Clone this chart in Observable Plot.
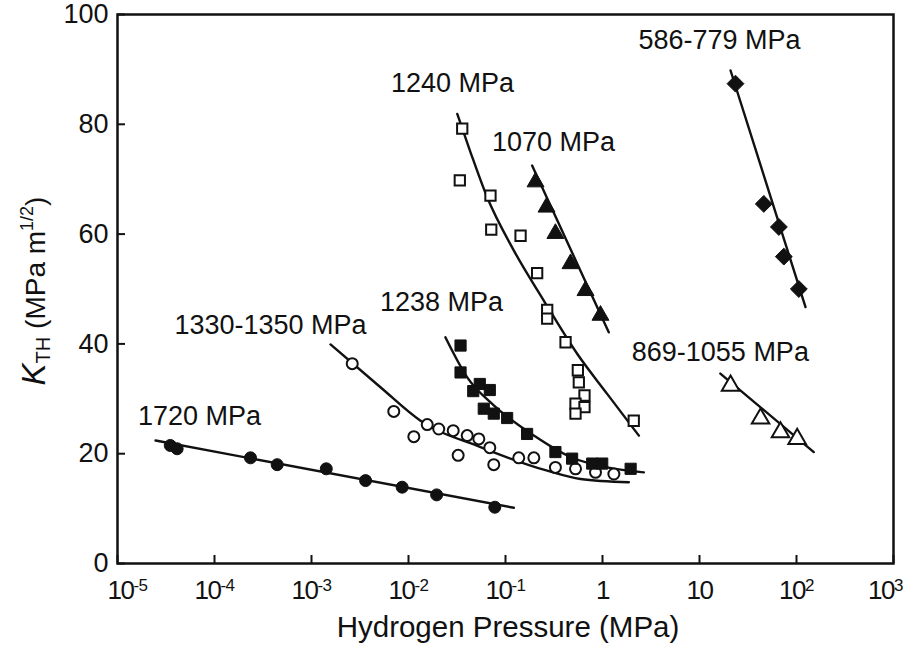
<!DOCTYPE html>
<html><head><meta charset="utf-8">
<script src="https://cdn.jsdelivr.net/npm/d3@7"></script>
<script src="https://cdn.jsdelivr.net/npm/@observablehq/plot@0.6"></script>
<style>
body{margin:0;background:#fff}
#chart svg{font-family:"Liberation Sans",Arial,Helvetica,sans-serif}
</style>
</head><body><div id="chart"></div>
<script>
// ---- axis ticks ----
const xTicks = [1e-5, 1e-4, 1e-3, 1e-2, 1e-1, 1, 10, 100, 1000];
const xTickBase = ["10", "10", "10", "10", "10", "1", "10", "10", "10"];
const xTickExp = ["-5", "-4", "-3", "-2", "-1", "", "", "2", "3"];
const yTicks = [0, 20, 40, 60, 80, 100];

// ---- data: 1720 MPa (filled circles) ----
const p1720x = [3.5e-5, 4.12e-5, 2.35e-4, 4.43e-4, 1.42e-3, 3.61e-3, 8.6e-3, 1.95e-2, 7.76e-2];
const p1720y = [21.5, 20.9, 19.25, 18.0, 17.25, 15.1, 13.9, 12.5, 10.25];
const f1720x = [2.47e-5, 0.122];
const f1720y = [22.4, 10.15];

// ---- 1330-1350 MPa (open circles) ----
const p1330x = [2.63e-3, 7.05e-3, 1.135e-2, 1.56e-2, 2.05e-2, 2.89e-2, 4.03e-2, 5.31e-2, 6.89e-2, 3.25e-2, 7.57e-2, 0.137, 0.196, 0.327, 0.527, 0.847, 1.31];
const p1330y = [36.4, 27.7, 23.1, 25.3, 24.5, 24.2, 23.3, 22.7, 21.1, 19.7, 18.0, 19.25, 19.25, 17.5, 17.25, 16.6, 16.3];
const f1330x = [1.57e-3, 5.14e-3, 1.33e-2, 5.52e-2, 0.269, 0.593, 1.87];
const f1330y = [39.9, 32.1, 26.0, 21.2, 16.9, 15.4, 14.8];

// ---- 1238 MPa (filled squares) ----
const p1238x = [3.44e-2, 3.44e-2, 5.43e-2, 4.65e-2, 6.89e-2, 5.97e-2, 7.57e-2, 0.104, 0.167, 0.327, 0.486, 0.783, 0.993, 1.95];
const p1238y = [39.7, 34.8, 32.7, 31.4, 31.6, 28.2, 27.3, 26.5, 23.6, 20.3, 19.1, 18.2, 18.2, 17.25];
const f1238x = [2.40e-2, 4.03e-2, 7.57e-2, 0.196, 0.468, 1.117, 2.67];
const f1238y = [41.2, 33.9, 28.8, 23.3, 19.4, 17.5, 16.6];

// ---- 1240 MPa (open squares) ----
const p1240x = [3.58e-2, 3.38e-2, 7.0e-2, 7.13e-2, 0.143, 0.212, 0.269, 0.269, 0.416, 0.557, 0.570, 0.652, 0.527, 0.652, 0.527, 2.10];
const p1240y = [79.2, 69.8, 67.0, 60.8, 59.7, 52.9, 46.2, 44.6, 40.3, 35.2, 33.0, 30.6, 29.1, 28.5, 27.3, 26.0];
const f1240x = [3.18e-2, 4.36e-2, 6.47e-2, 0.122, 0.248, 0.548, 1.117, 2.37];
const f1240y = [81.9, 74.9, 66.7, 57.0, 47.9, 38.2, 30.9, 23.3];

// ---- 1070 MPa (filled triangles) ----
const p1070x = [0.204, 0.265, 0.327, 0.468, 0.668, 0.953];
const p1070y = [69.5, 64.9, 60.1, 54.6, 49.7, 45.2];
const f1070x = [0.188, 1.16];
const f1070y = [72.5, 42.1];

// ---- 586-779 MPa (filled diamonds) ----
const p586x = [23.5, 46.0, 65.8, 74.0, 105.7];
const p586y = [87.4, 65.5, 61.3, 55.9, 50.0];
const f586x = [20.9, 123.9];
const f586y = [89.8, 46.7];

// ---- 869-1055 MPa (open triangles) ----
const p869x = [20.9, 42.6, 68.4, 101.6];
const p869y = [32.4, 26.4, 23.9, 22.7];
const f869x = [16.4, 150.7];
const f869y = [34.6, 20.3];

// ---- series labels ----
const labelText = ["586-779 MPa", "1240 MPa", "1070 MPa", "1238 MPa", "1330-1350 MPa", "869-1055 MPa", "1720 MPa"];
const labelX = [16.1, 2.84e-2, 0.313, 2.19e-2, 3.78e-4, 16.4, 7.0e-5];
const labelY = [95.3, 87.4, 76.7, 47.5, 43.4, 38.4, 26.8];

const zip = (xs, ys) => xs.map((x, i) => ({x, y: ys[i]}));

const ink = "#111";
const lineOpts = {x: "x", y: "y", stroke: ink, strokeWidth: 2.4};

const series = [
  {pts: zip(p1720x, p1720y), fit: zip(f1720x, f1720y), curve: "linear", symbol: "circle", filled: true, r: 6},
  {pts: zip(p1330x, p1330y), fit: zip(f1330x, f1330y), curve: "monotone-x", symbol: "circle", filled: false, r: 5.5},
  {pts: zip(p1238x, p1238y), fit: zip(f1238x, f1238y), curve: "monotone-x", symbol: "square", filled: true, r: 6.3},
  {pts: zip(p1240x, p1240y), fit: zip(f1240x, f1240y), curve: "monotone-x", symbol: "square", filled: false, r: 5.8},
  {pts: zip(p1070x, p1070y), fit: zip(f1070x, f1070y), curve: "linear", symbol: "triangle", filled: true, r: 6.3},
  {pts: zip(p586x, p586y), fit: zip(f586x, f586y), curve: "linear", symbol: "diamond2", filled: true, r: 7.6},
  {pts: zip(p869x, p869y), fit: zip(f869x, f869y), curve: "linear", symbol: "triangle", filled: false, r: 6.5}
];

const marks = [];
for (const s of series) {
  marks.push(Plot.line(s.fit, {...lineOpts, curve: s.curve}));
}
for (const s of series) {
  marks.push(Plot.dot(s.pts, {
    x: "x", y: "y", symbol: s.symbol, r: s.r,
    fill: s.filled ? ink : "white", stroke: ink, strokeWidth: s.filled ? 1 : 2
  }));
}
marks.push(Plot.text(labelText.map((t, i) => ({t, x: labelX[i], y: labelY[i]})), {
  x: "x", y: "y", text: "t", fontSize: 27, fill: ink
}));
// axes: inward ticks (no text) + labels (no ticks)
marks.push(Plot.axisX({ticks: xTicks, tickSize: 8, dy: -8, tickFormat: () => "", stroke: ink, strokeWidth: 2, label: null}));
marks.push(Plot.axisX({ticks: xTicks, tickSize: 0, tickPadding: 17, tickFormat: (d) => xTickBase[xTicks.indexOf(d)], fontSize: 26, fill: ink, label: null}));
marks.push(Plot.axisY({ticks: yTicks, tickSize: 8, dx: 8, tickFormat: () => "", stroke: ink, strokeWidth: 2, label: null}));
marks.push(Plot.axisY({ticks: yTicks, tickSize: 0, tickPadding: 9, fontSize: 27, fill: ink, label: null}));
marks.push(Plot.frame({stroke: ink, strokeWidth: 2.5}));

const chart = Plot.plot({
  width: 910, height: 648,
  marginLeft: 117, marginRight: 17, marginTop: 14, marginBottom: 85,
  style: {background: "white", fontFamily: '"Liberation Sans", Arial, sans-serif', color: ink},
  x: {type: "log", domain: [1e-5, 1e3]},
  y: {domain: [0, 100]},
  marks
});
document.getElementById("chart").appendChild(chart);

const svg = d3.select(chart);
// superscripts on x tick labels: use only the text group that carries labels
const shiftX = {0: 10, 8: -8};
svg.selectAll('g[aria-label="x-axis tick label"]').nodes().forEach(g => {
  const texts = d3.select(g).selectAll("text");
  if (texts.nodes().every(n => n.textContent.trim() === "")) { d3.select(g).remove(); return; }
  texts.each(function(d, i) {
    const t = d3.select(this);
    const base = t.text();
    const exp = xTickExp[i];
    t.attr("letter-spacing", -1.5);
    if (shiftX[i]) t.attr("dx", shiftX[i]);
    if (exp) {
      t.text(null);
      t.append("tspan").text(base);
      t.append("tspan").attr("font-size", 17).attr("letter-spacing", -0.5).attr("dy", "-0.45em").text(exp);
    }
  });
});
svg.selectAll('g[aria-label="y-axis tick label"]').each(function() {
  const texts = d3.select(this).selectAll("text").nodes();
  if (texts.every(n => n.textContent.trim() === "")) d3.select(this).remove();
});

// axis titles
svg.append("text")
  .attr("x", (117 + 893) / 2 + 3).attr("y", 637)
  .attr("text-anchor", "middle").attr("font-size", 29.5).attr("fill", ink)
  .text("Hydrogen Pressure (MPa)");

const yl = svg.append("text")
  .attr("transform", "translate(45,291) rotate(-90)")
  .attr("text-anchor", "middle").attr("font-size", 28).attr("fill", ink);
yl.append("tspan").attr("font-style", "italic").attr("font-size", 33).text("K");
yl.append("tspan").attr("font-size", 20).attr("dy", 5).text("TH");
yl.append("tspan").attr("dy", -5).text(" (MPa m");
yl.append("tspan").attr("font-size", 18).attr("dy", -12).text("1/2");
yl.append("tspan").attr("dy", 12).text(")");
</script>
</body></html>
